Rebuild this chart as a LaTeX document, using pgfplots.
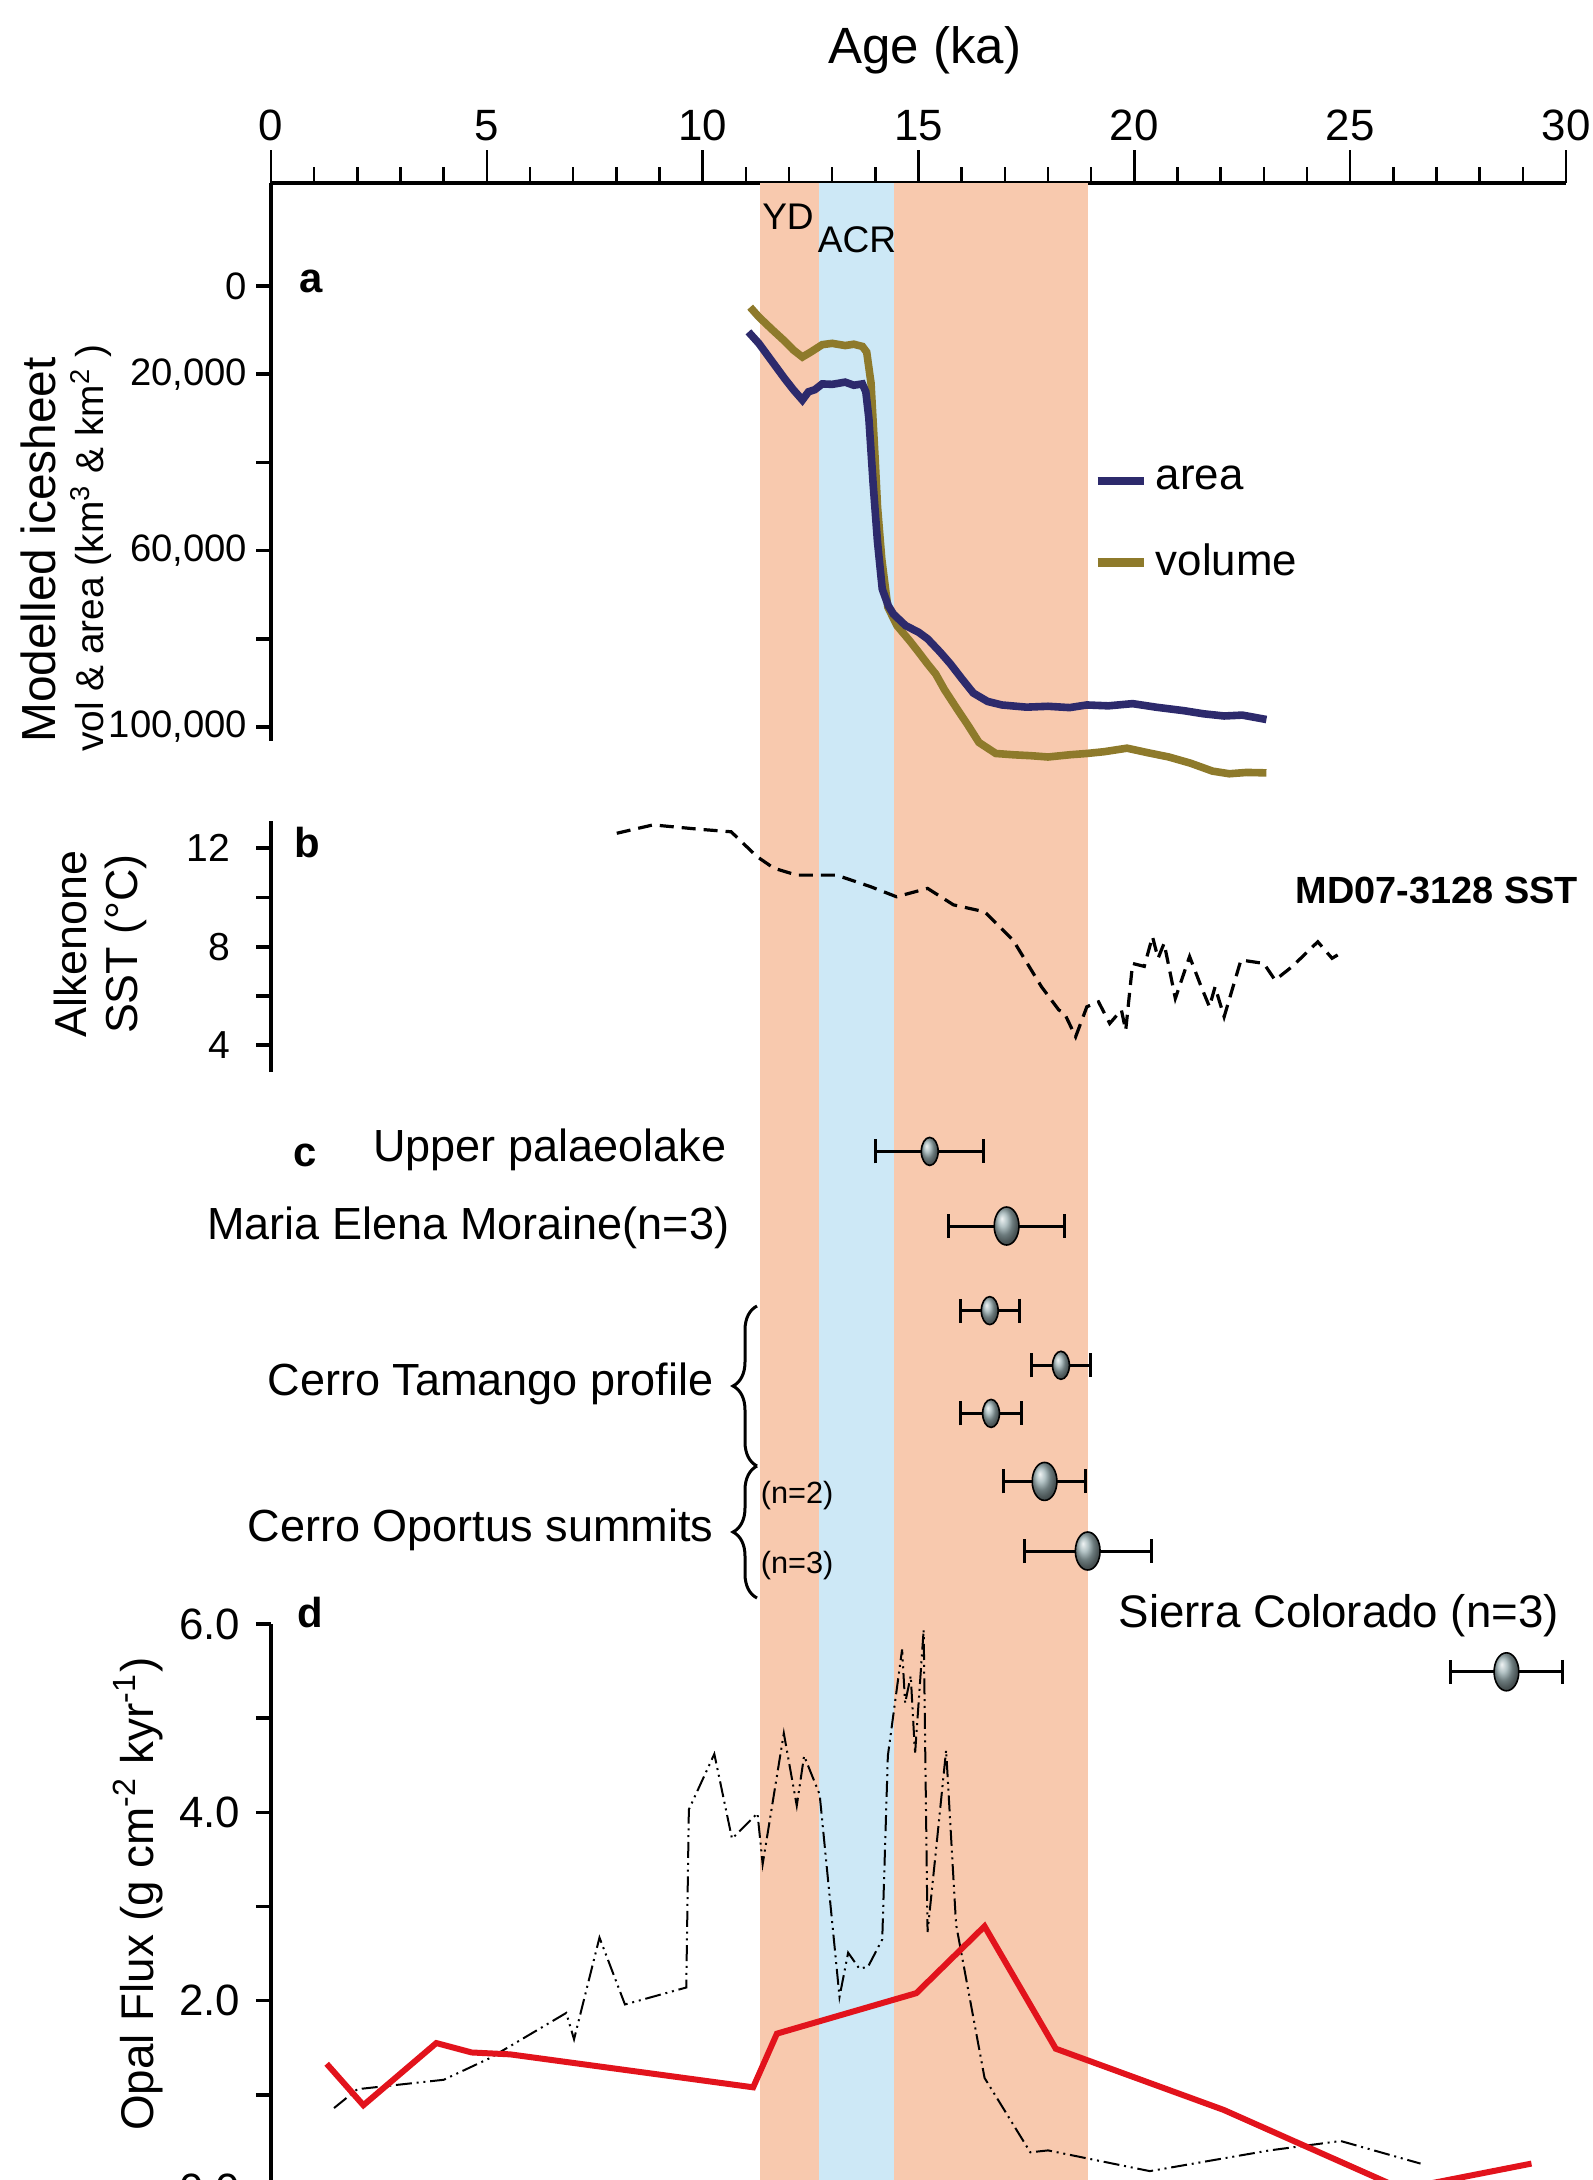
\documentclass[border=0pt]{standalone}
\usepackage{fontspec}
\setmainfont{Liberation Sans}
\usepackage{pgfplots}
\pgfplotsset{compat=1.18}
\usetikzlibrary{decorations.pathreplacing}
\definecolor{bandor}{HTML}{F8C9AE}
\definecolor{bandbl}{HTML}{CDE8F6}
\definecolor{navyc}{HTML}{2D2A6C}
\definecolor{olivec}{HTML}{8E7A2B}
\definecolor{redc}{HTML}{E2131C}
\definecolor{ballc}{HTML}{9AAFB2}
\newcommand{\fs}[1]{\fontsize{#1}{#1}\selectfont}
\begin{document}
\begin{tikzpicture}
\useasboundingbox (0,0) rectangle (398.25bp,-545bp);
\clip (0,0) rectangle (398.25bp,-545bp);
\pgfplotsset{
  panel/.style={at={(67.75bp,#1)}, anchor=north west, scale only axis, width=323.75bp,
    xmin=0, xmax=30, clip=false,
    axis x line=none, axis y line=left, axis line style={-, line width=1.1bp},
    tick align=outside, major tick length=3.75bp, minor tick length=3.75bp,
    tick style={line width=0.9bp, black}, scaled y ticks=false,
    /pgf/number format/assume math mode=true,
    yticklabel style={anchor=east, inner sep=0pt}},
}
% frame axis with top age axis and bands
\begin{axis}[at={(67.75bp,-45.75bp)}, anchor=north west, scale only axis,
  width=323.75bp, height=500bp, xmin=0, xmax=30, ymin=0, ymax=1, clip=false,
  axis x line=top, axis y line=none, axis line style={-, line width=1.1bp},
  xtick={0,5,...,30}, minor x tick num=4, tick align=outside,
  major tick length=8.25bp, minor tick length=4bp, tick style={line width=0.6bp, black},
  /pgf/number format/assume math mode=true,
  xticklabel style={font=\fs{11}, inner sep=0pt, yshift=2bp},
  legend cell align=left,
  legend style={draw=none, fill=none, font=\fs{11}, at={(axis cs:18.75,0.8295)}, anchor=west, row sep=8bp},
  legend image code/.code={\path (0bp,0bp) -- (11.5bp,0bp); \draw[#1] (0.5bp,0bp) -- (8.5bp,0bp);},
]
\addplot[fill=bandor, draw=none, forget plot] coordinates {(11.33,1) (12.70,1)} \closedcycle;
\addplot[fill=bandbl, draw=none, forget plot] coordinates {(12.70,1) (14.44,1)} \closedcycle;
\addplot[fill=bandor, draw=none, forget plot] coordinates {(14.44,1) (18.93,1)} \closedcycle;
\addlegendimage{navyc, line width=2bp}
\addlegendentry{area}
\addlegendimage{olivec, line width=2.2bp}
\addlegendentry{volume}
\node[font=\fs{12.8}] at (axis cs:15.15,1) [yshift=33.25bp] {Age (ka)};
\end{axis}
% panel a
\begin{axis}[panel=-45.75bp, height=139.5bp, ymin=-23356, ymax=103175, y dir=reverse,
  ytick={0,20000,40000,60000,80000,100000}, yticklabels={0,{20,000},,{60,000},,{100,000}},
  yticklabel style={font=\fs{9.6}, xshift=-2bp}]
\addplot[olivec, line width=1.9bp] coordinates {(11.10,4800) (11.3,7000) (11.6,9800) (11.9,12500) (12.1,14500) (12.31,16100) (12.5,15000) (12.77,13300) (13.0,13000) (13.3,13500) (13.5,13200) (13.70,13700) (13.80,15000) (13.90,22000) (14.0,40000) (14.05,50000) (14.15,62000) (14.29,72800) (14.5,77000) (14.8,80500) (15.0,83000) (15.21,85700) (15.4,88000) (15.6,91500) (15.9,96000) (16.14,99500) (16.4,103500) (16.79,106000) (17.2,106300) (17.6,106500) (18.0,106800) (18.5,106300) (18.9,106000) (19.3,105600) (19.83,104800) (20.3,105800) (20.8,106800) (21.3,108200) (21.81,110000) (22.2,110600) (22.6,110300) (23.06,110400)};
\addplot[navyc, line width=1.9bp] coordinates {(11.06,10400) (11.3,13000) (11.6,17000) (11.9,21000) (12.1,23500) (12.31,25850) (12.45,24000) (12.6,23500) (12.77,22200) (13.0,22300) (13.3,21800) (13.5,22500) (13.70,22200) (13.78,24000) (13.85,30000) (13.95,45000) (14.05,58000) (14.16,68700) (14.3,72500) (14.42,74400) (14.7,77000) (15.0,78500) (15.21,80000) (15.5,83000) (15.74,85700) (16.0,89000) (16.27,92300) (16.6,94200) (16.93,95000) (17.5,95500) (18.0,95300) (18.5,95600) (18.9,95000) (19.4,95200) (19.96,94700) (20.5,95500) (21.15,96300) (21.6,97000) (22.08,97500) (22.5,97300) (23.06,98300)};
\end{axis}
% panel b
\begin{axis}[panel=-205.3bp, height=62.75bp, ymin=2.9, ymax=13.1,
  ytick={4,6,8,10,12}, yticklabels={4,,8,,12},
  yticklabel style={font=\fs{9.8}, xshift=-6.25bp}]
\addplot[black, line width=0.8bp, dash pattern=on 3.5bp off 2bp] coordinates {(8.01,12.61) (8.85,12.95) (9.94,12.77) (10.66,12.67) (11.26,11.66) (11.65,11.19) (12.18,10.91) (13.10,10.91) (13.89,10.44) (14.49,10.03) (15.21,10.37) (15.81,9.70) (16.53,9.42) (17.19,8.27) (17.85,6.37) (18.25,5.43) (18.38,5.3) (18.64,4.34) (18.9,5.56) (19.17,5.76) (19.43,4.88) (19.7,5.43) (19.8,4.6) (19.96,7.32) (20.23,7.2) (20.42,8.41) (20.55,7.53) (20.69,8.14) (20.95,5.90) (21.28,7.6) (21.55,6.37) (21.74,5.56) (21.87,6.37) (22.08,5.15) (22.47,7.46) (23.0,7.32) (23.26,6.64) (23.66,7.2) (24.25,8.2) (24.58,7.53) (24.84,7.8)};
\end{axis}
% panel c
\begin{axis}[at={(67.75bp,-275bp)}, anchor=north west, scale only axis, width=323.75bp, height=150bp,
  xmin=0, xmax=30, ymin=0, ymax=600, y dir=reverse, hide axis, clip=false]
\addplot[only marks, mark=ball, mark size=3.5bp, mark options={xscale=0.6, ball color=ballc}] coordinates {(15.26,51.4) (16.65,210.6) (18.30,265.3) (16.68,313.4)};
\addplot[only marks, mark=ball, mark size=4.75bp, mark options={xscale=0.65, ball color=ballc}] coordinates {(17.04,126) (17.92,381.4) (18.92,451) (28.62,571.8)};
\addplot[draw=none, mark=none, error bars/.cd, x dir=both, x explicit, error mark=|,
  error bar style={draw=black, solid, line width=0.75bp}, error mark options={draw=black, line width=0.75bp, mark size=3bp}]
  coordinates {(15.26,51.4) +- (1.25,0) (17.04,126) +- (1.35,0) (16.65,210.6) +- (0.68,0) (18.30,265.3) +- (0.68,0) (16.68,313.4) +- (0.7,0) (17.92,381.4) +- (0.95,0) (18.92,451) +- (1.47,0) (28.62,571.8) +- (1.3,0)};
\end{axis}
% panel d
\begin{axis}[panel=-406bp, height=141.25bp, ymin=0, ymax=6,
  ytick={0,1,2,3,4,5,6}, yticklabels={0.0,,2.0,,4.0,,6.0},
  yticklabel style={font=\fs{11}, xshift=-3.75bp}]
\addplot[black, line width=0.5bp, dash pattern=on 4bp off 1.2bp on 0.5bp off 1.2bp on 0.5bp off 1.2bp] coordinates {(1.46,0.86) (2.0,1.06) (4.0,1.16) (5.07,1.39) (6.84,1.87) (7.02,1.59) (7.61,2.67) (8.2,1.96) (9.62,2.14) (9.68,4.03) (10.27,4.62) (10.68,3.72) (11.27,3.99) (11.39,3.45) (11.88,4.84) (12.18,4.07) (12.35,4.6) (12.71,4.19) (13.17,2.04) (13.37,2.51) (13.63,2.34) (13.83,2.36) (14.16,2.65) (14.29,4.6) (14.62,5.73) (14.69,5.16) (14.82,5.45) (14.92,4.62) (15.12,5.94) (15.21,2.73) (15.41,3.62) (15.64,4.66) (15.87,2.81) (16.53,1.18) (17.59,0.39) (18.0,0.41) (20.36,0.19) (23.13,0.41) (24.78,0.51) (26.63,0.27)};
\addplot[redc, line width=1.5bp] coordinates {(1.29,1.33) (2.14,0.89) (3.83,1.55) (4.65,1.45) (5.54,1.43) (11.17,1.08) (11.72,1.65) (14.95,2.08) (16.53,2.79) (18.18,1.49) (22.07,0.84) (26.2,0.0) (29.2,0.27)};
\end{axis}
% annotations
\begin{scope}[every node/.style={inner sep=0pt}]
\node[font=\bfseries\fs{10.5}] at (77.75bp,-70.25bp) {a};
\node[font=\bfseries\fs{10.5}] at (76.75bp,-210.75bp) {b};
\node[font=\bfseries\fs{10.5}] at (76.25bp,-288.75bp) {c};
\node[font=\bfseries\fs{10.5}] at (77.5bp,-403.25bp) {d};
\node[font=\fs{9.3}] at (197bp,-54.25bp) {YD};
\node[font=\fs{9.3}] at (214.25bp,-60bp) {ACR};
\node[rotate=90, font=\fs{12}] at (9.5bp,-137.5bp) {Modelled icesheet};
\node[rotate=90, font=\fs{9.75}] at (22.75bp,-137bp) {vol \& area (km\textsuperscript{3} \& km\textsuperscript{2} )};
\node[rotate=90, font=\fs{11.25}] at (17.5bp,-236bp) {Alkenone};
\node[rotate=90, font=\fs{11.25}] at (31.5bp,-236bp) {SST (°C)};
\node[rotate=90, font=\fs{11.5}] at (34.5bp,-473.5bp) {Opal Flux (g cm\textsuperscript{-2} kyr\textsuperscript{-1})};
\node[anchor=west, font=\bfseries\fs{9.5}] at (323.75bp,-222.5bp) {MD07-3128 SST};
\node[anchor=east, font=\fs{11.3}] at (181.75bp,-287.5bp) {Upper palaeolake};
\node[anchor=east, font=\fs{11.3}] at (182.5bp,-307bp) {Maria Elena Moraine(n=3)};
\node[anchor=east, font=\fs{11.3}] at (178.5bp,-346bp) {Cerro Tamango profile};
\node[anchor=east, font=\fs{11.3}] at (178.5bp,-382.5bp) {Cerro Oportus summits};
\node[anchor=west, font=\fs{7.7}] at (190bp,-374bp) {(n=2)};
\node[anchor=west, font=\fs{7.7}] at (190bp,-391.5bp) {(n=3)};
\node[anchor=west, font=\fs{11.45}] at (279.5bp,-404bp) {Sierra Colorado (n=3)};
\end{scope}
\draw[line width=0.75bp, decorate, decoration={brace, amplitude=6bp}] (189.25bp,-366.5bp) -- (189.25bp,-326.5bp);
\draw[line width=0.75bp, decorate, decoration={brace, amplitude=6bp}] (189.25bp,-399.5bp) -- (189.25bp,-366.5bp);
\end{tikzpicture}
\end{document}
